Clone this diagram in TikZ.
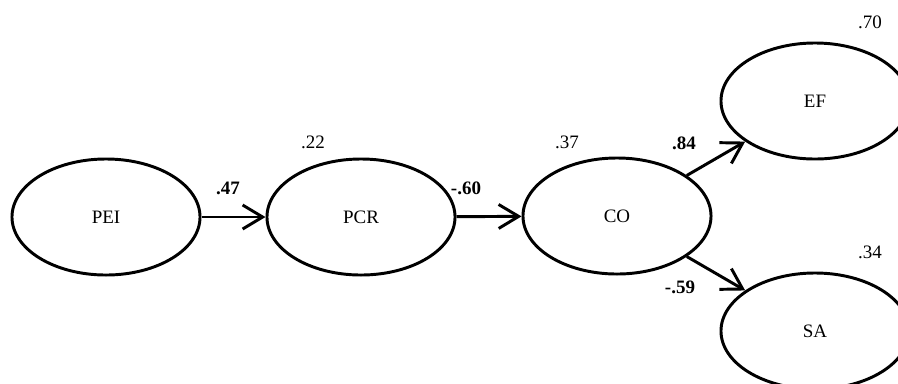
\documentclass[tikz,border=0pt]{standalone}
\usepackage{fontspec}
\setmainfont{Liberation Serif}
\usetikzlibrary{arrows.meta,shapes.geometric}

\tikzset{
  latent/.style={draw, ellipse, line width=2.1pt, minimum width=4.7cm, minimum height=2.9cm, inner sep=0pt, font=\fontsize{13.5}{15}\selectfont},
  path/.style={line width=2.1pt, -{Straight Barb[length=0.5cm, width=0.6cm, line width=2.1pt]}},
  coef/.style={font=\fontsize{13.5}{15}\selectfont\bfseries},
  rsq/.style={font=\fontsize{13.5}{15}\selectfont}
}

\begin{document}
\begin{tikzpicture}[x=0.025cm, y=-0.025cm]

  % Canvas
  \useasboundingbox (0,0) rectangle (898,383);
  \clip (0,0) rectangle (898,383);

  % Latent variables
  \node[latent] (PEI) at (106,217) {PEI};
  \node[latent] (PCR) at (361,217) {PCR};
  \node[latent] (CO) at (617,216) {CO};
  \node[latent] (EF) at (815,101) {EF};
  \node[latent] (SA) at (815,331) {SA};

  % Paths
  \draw[path] (PEI) -- (PCR);
  \draw[path] (PCR) -- (CO);
  \draw[path] (CO) -- (EF);
  \draw[path] (CO) -- (SA);

  % Path coefficients
  \node[coef] (b1) at (228,188) {.47};
  \node[coef] (b2) at (466,188) {-.60};
  \node[coef] (b3) at (684,143) {.84};
  \node[coef] (b4) at (680,287) {-.59};

  % Explained variance
  \node[rsq] (r1) at (313,142) {.22};
  \node[rsq] (r2) at (567,142) {.37};
  \node[rsq] (r3) at (870,22) {.70};
  \node[rsq] (r4) at (870,252) {.34};

\end{tikzpicture}
\end{document}
